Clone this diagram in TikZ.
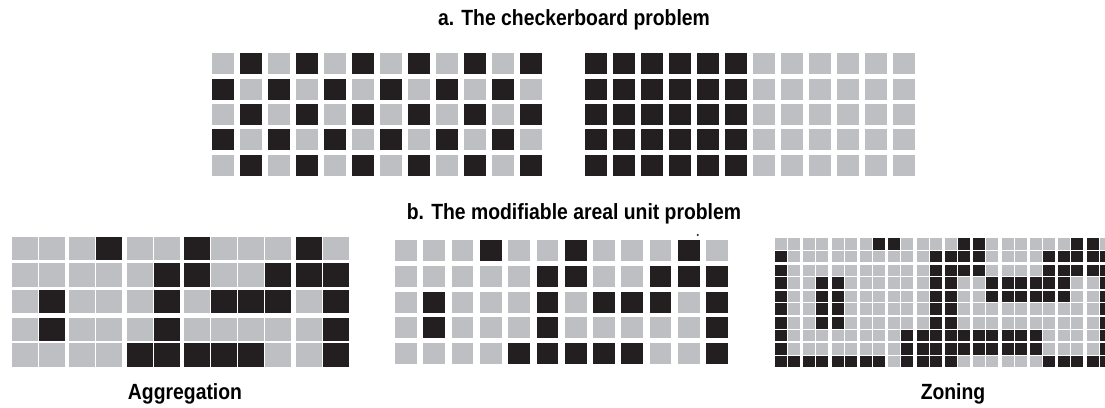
\documentclass[tikz,border=0pt]{standalone}
\usepackage{fontspec}
\setmainfont{Liberation Sans}
\newfontfamily\lblfont{Liberation Sans}[UprightFont=* Bold, FakeStretch=0.88]
\usetikzlibrary{positioning}
\definecolor{cellgray}{RGB}{190,191,195}
\definecolor{cellblack}{RGB}{35,31,32}
\tikzset{
    cell_gray/.style={fill=cellgray},
    cell_black/.style={fill=cellblack},
    panel_title/.style={
        font=\lblfont\fontsize{22}{24}\selectfont, text=black, inner sep=0pt
    },
    panel_label/.style={
        font=\lblfont\fontsize{22}{24}\selectfont, text=black, inner sep=0pt
    }
}

\begin{document}
\begin{tikzpicture}[x=1pt, y=-1pt]
    \useasboundingbox (0,0) rectangle (1105,407);

    % Titles
    \node[panel_title] (title_a) at (574,20) {a. The checkerboard problem};
    \node[panel_title] (title_b) at (574,214) {b. The modifiable areal unit problem};

    % Checkerboard (left)
    \foreach \r in {1,...,5}
        \foreach \c in {1,...,12} {
            \pgfmathsetmacro\xl{212+28*(\c-1)}
            \pgfmathsetmacro\yt{53.3+25.3*(\r-1)}
            \pgfmathparse{int(mod(\r+\c,2))}
            \ifnum\pgfmathresult=1 \def\cellstyle{cell_black}\else\def\cellstyle{cell_gray}\fi
            \fill[\cellstyle] (\xl,\yt) rectangle ++(22,21);
        }

    % Checkerboard (right), split in two halves
    \foreach \r in {1,...,5}
        \foreach \c in {1,...,12} {
            \pgfmathsetmacro\xl{585+28*(\c-1)}
            \pgfmathsetmacro\yt{53.3+25.3*(\r-1)}
            \ifnum\c<7 \def\cellstyle{cell_black}\else\def\cellstyle{cell_gray}\fi
            \fill[\cellstyle] (\xl,\yt) rectangle ++(22,21);
        }

    % Aggregation
    \def\aggx{{11.7,38.7,68.5,95.5,126.5,153.5,184,211,238,265,296,323}}
    \def\aggy{{236.7,263.3,290,317.5,343.3}}
    \foreach \r in {1,...,5}
        \foreach \c in {1,...,12} {
            \pgfmathsetmacro\xl{\aggx[\c-1]}
            \pgfmathsetmacro\yt{\aggy[\r-1]}
            \fill[cell_gray] (\xl,\yt) rectangle ++(26,23.3);
        }
    \foreach \r/\cols in {1/{4,7,11},2/{6,7,10,11,12},3/{2,6,8,9,10,12},4/{2,6,12},5/{5,6,7,8,9,12}}
        \foreach \c in \cols {
            \pgfmathsetmacro\xl{\aggx[\c-1]}
            \pgfmathsetmacro\yt{\aggy[\r-1]}
            \fill[cell_black] (\xl,\yt) rectangle ++(26,23.3);
        }

    % Middle grid
    \foreach \r in {1,...,5}
        \foreach \c in {1,...,12} {
            \pgfmathsetmacro\xl{395+28.3*(\c-1)}
            \pgfmathsetmacro\yt{240+25.8*(\r-1)}
            \fill[cell_gray] (\xl,\yt) rectangle ++(21.7,21);
        }
    \foreach \r/\cols in {1/{4,7,11},2/{6,7,10,11,12},3/{2,6,8,9,10,12},4/{2,6,12},5/{5,6,7,8,9,12}}
        \foreach \c in \cols {
            \pgfmathsetmacro\xl{395+28.3*(\c-1)}
            \pgfmathsetmacro\yt{240+25.8*(\r-1)}
            \fill[cell_black] (\xl,\yt) rectangle ++(21.7,21);
        }
    \fill[cell_black] (697.7,235) circle (1.2);

    % Zoning
    \begin{scope}
        \clip (770,230) rectangle (1105,372);
        \foreach \r in {1,...,10}
            \foreach \c in {1,...,24} {
                \pgfmathsetmacro\xl{775+28.33*floor((\c-1)/2)+13*mod(\c-1,2)}
                \pgfmathsetmacro\yt{238.3+26.25*floor((\r-1)/2)+12.5*mod(\r-1,2)}
                \fill[cell_gray] (\xl,\yt) rectangle ++(12,11.5);
            }
        \foreach \r/\cols in {1/{8,9,14,15,22,23},
                              2/{1,12,13,14,15,20,21,22,23,24},
                              3/{1,12,13,14,15,20,21,22,23,24},
                              4/{1,4,5,12,13,16,17,18,19,20,21,24},
                              5/{1,4,5,12,13,16,17,18,19,20,21,24},
                              6/{1,4,5,12,13,24},
                              7/{1,4,5,12,13,24},
                              8/{1,10,11,12,13,14,15,16,17,18,19,24},
                              9/{1,10,11,12,13,14,15,16,17,18,19,24},
                              10/{1,2,3,4,5,6,7,8,10,11,12,13,20,21,22,23,24}}
            \foreach \c in \cols {
                \pgfmathsetmacro\xl{775+28.33*floor((\c-1)/2)+13*mod(\c-1,2)}
                \pgfmathsetmacro\yt{238.3+26.25*floor((\r-1)/2)+12.5*mod(\r-1,2)}
                \fill[cell_black] (\xl,\yt) rectangle ++(12,11.5);
            }
    \end{scope}

    % Labels
    \node[panel_label] (lbl_agg) at (185,394) {Aggregation};
    \node[panel_label] (lbl_zone) at (953,394) {Zoning};
\end{tikzpicture}
\end{document}
